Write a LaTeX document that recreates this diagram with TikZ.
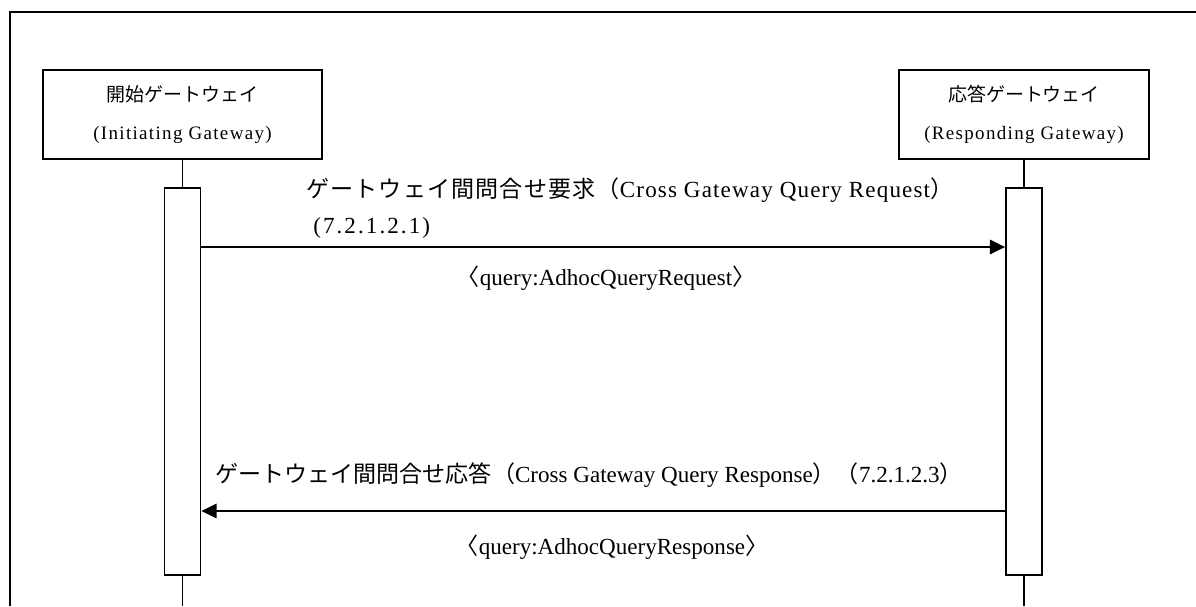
\documentclass[tikz,border=0pt]{standalone}
\usepackage{fontspec}
\setmainfont{Liberation Serif}
\newfontfamily\jpfont{Noto Sans CJK JP}
\newfontfamily\jpwide[LetterSpace=5]{Noto Sans CJK JP}
\newfontfamily\latbox[LetterSpace=7]{Liberation Serif}
\newfontfamily\latwide[LetterSpace=5]{Liberation Serif}
\newfontfamily\latsec[LetterSpace=9]{Liberation Serif}
\usetikzlibrary{arrows.meta,positioning}

\begin{document}
\begin{tikzpicture}[
  x=0.025cm, y=-0.025cm,
  gateway/.style={
    draw,
    line width=1.3pt,
    align=center,
    inner sep=0pt,
    minimum height=2.225cm,
    font=\fontsize{13.5}{27}\selectfont\latbox
  },
  active/.style={
    draw,
    line width=1.3pt,
    inner sep=0pt,
    minimum width=0.9cm,
    minimum height=9.675cm
  },
  life/.style={line width=1.3pt},
  msg/.style={
    -{Triangle[length=0.38cm, width=0.36cm]},
    line width=1.3pt
  },
  lbl/.style={inner sep=0pt, font=\fontsize{16.4}{20}\selectfont}
]
  \useasboundingbox (0,0) rectangle (1196,606);
  % outer frame, cut off at the right and bottom edges
  \draw[line width=1.3pt] (10,606) -- (10,12) -- (1196,12);

  % the two gateways and their activations
  \node[gateway, minimum width=6.975cm] (initgw) at (182.5,114.5) {{\jpfont 開始ゲートウェイ}\\(Initiating Gateway)};
  \node[gateway, minimum width=6.25cm] (respgw) at (1024,114.5) {{\jpfont 応答ゲートウェイ}\\(Responding Gateway)};
  \node[active, below=0.675cm of initgw] (initact) {};
  \node[active, below=0.675cm of respgw] (respact) {};

  \coordinate (initend) at (initact.south |- 0,606);
  \coordinate (respend) at (respact.south |- 0,606);
  \draw[life] (initgw) -- (initact);
  \draw[life] (respgw) -- (respact);
  \draw[life] (initact) -- (initend);
  \draw[life] (respact) -- (respend);

  % request
  \coordinate (reqy) at (0,247);
  \draw[msg] (initact.east |- reqy) -- (respact.west |- reqy);
  \node[lbl, anchor=west] (reqtitle) at (306,190) {{\jpwide ゲートウェイ間問合せ要求（}{\latwide Cross Gateway Query Request}{\jpwide ）}};
  \node[lbl, anchor=west] (reqsec) at (313,228) {\latsec (7.2.1.2.1)};
  \node[lbl] (reqbody) at (606,278) {{\jpfont 〈}query:AdhocQueryRequest{\jpfont 〉}};

  % response
  \coordinate (resy) at (0,511);
  \draw[msg] (respact.west |- resy) -- (initact.east |- resy);
  \node[lbl, anchor=west] (restitle) at (215,475) {{\jpfont ゲートウェイ間問合せ応答（}Cross Gateway Query Response{\jpfont ）（}7.2.1.2.3{\jpfont ）}};
  \node[lbl] (resbody) at (612,547) {{\jpfont 〈}query:AdhocQueryResponse{\jpfont 〉}};
\end{tikzpicture}
\end{document}
